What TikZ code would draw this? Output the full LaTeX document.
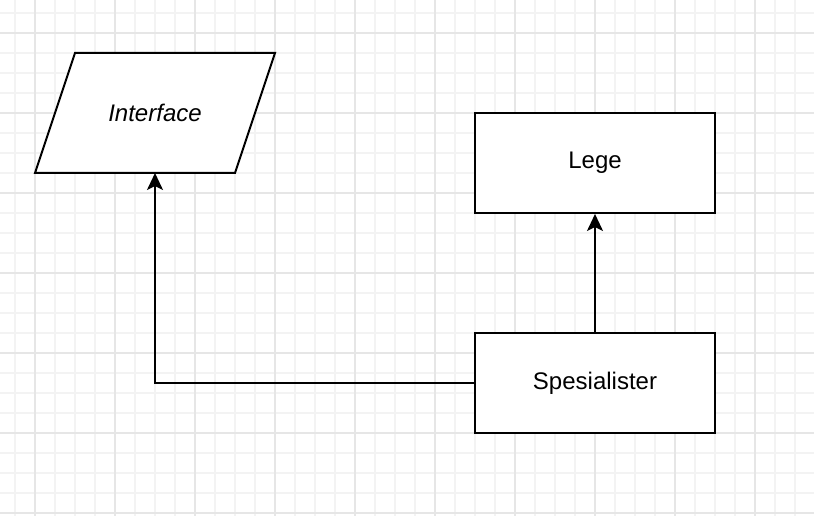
\documentclass[tikz,border=0pt]{standalone}
\usepackage{fontspec}
\setmainfont{Liberation Sans}
\usetikzlibrary{arrows.meta}
\definecolor{minorgrid}{HTML}{F3F3F3}
\definecolor{majorgrid}{HTML}{E6E6E6}
\tikzset{
  box/.style={draw=black, line width=2bp, fill=white, minimum width=240bp, minimum height=100bp, inner sep=0pt, font=\fontsize{24bp}{28bp}\selectfont},
  conn/.style={draw=black, line width=2bp, -{Stealth[length=17bp, width=16bp, inset=4bp]}},
}
\begin{document}
\begin{tikzpicture}[x=1bp, y=-1bp]
\useasboundingbox (0,0) rectangle (814,516);
\fill[white] (0,0) rectangle (814,516);
% minor grid
\foreach \x in {15,35,...,814} \draw[minorgrid, line width=1.5bp] (\x,0) -- (\x,516);
\foreach \y in {13,33,...,516} \draw[minorgrid, line width=1.5bp] (0,\y) -- (814,\y);
% major grid
\foreach \x in {35,115,...,814} \draw[majorgrid, line width=1.5bp] (\x,0) -- (\x,516);
\foreach \y in {33,113,...,516} \draw[majorgrid, line width=1.5bp] (0,\y) -- (814,\y);
% interface parallelogram
\draw[line width=2bp, fill=white] (75,53) -- (275,53) -- (235,173) -- (35,173) -- cycle;
\node[font=\fontsize{24bp}{28bp}\selectfont\itshape] (iface) at (155,113) {Interface};
\coordinate (ifaceb) at (155,173);
\node[box] (lege) at (595,163) {Lege};
\node[box] (spes) at (595,383) {Spesialister};
\draw[conn] (spes.north) -- (lege.south);
\draw[conn] (spes.west) -| (ifaceb);
\end{tikzpicture}
\end{document}
